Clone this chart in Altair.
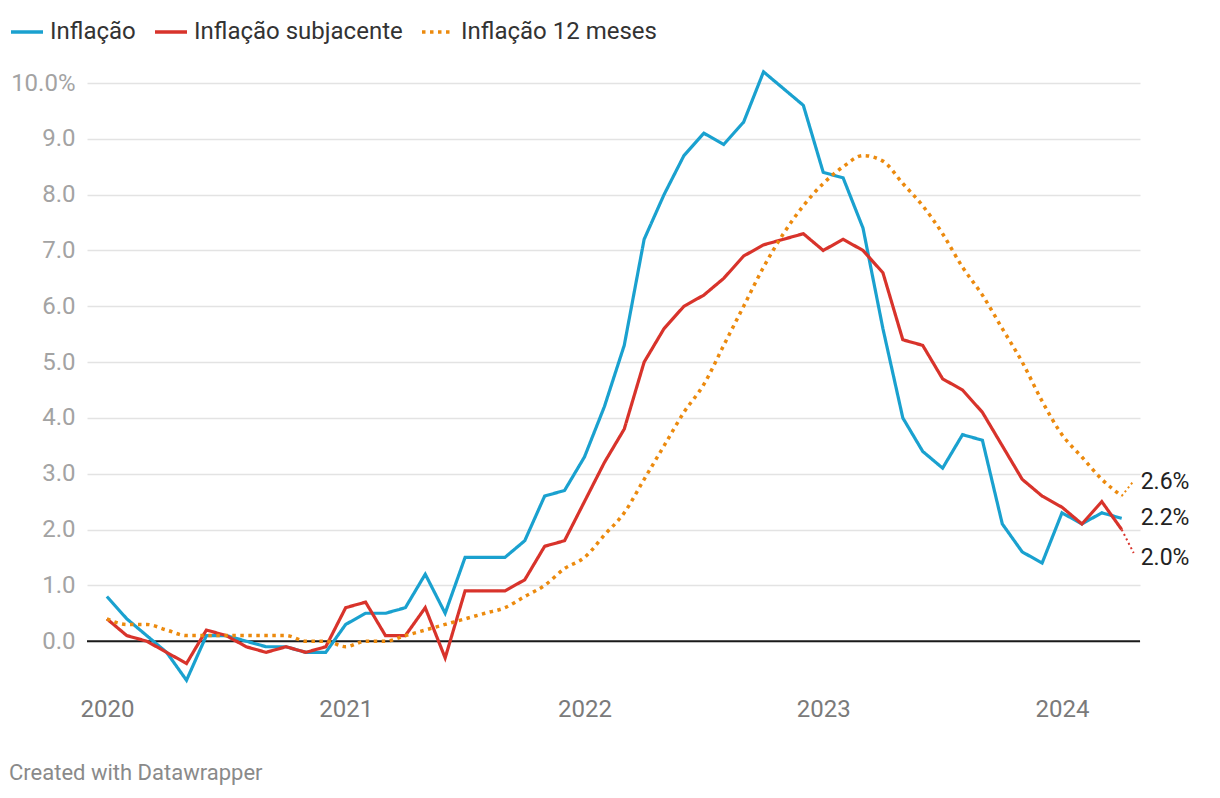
import json
import altair as alt
import pandas as pd

# ---- data (monthly, Jan 2020 – Apr 2024) ----
inflacao = [
    0.8, 0.4, 0.1, -0.2, -0.7, 0.1, 0.1, 0.0, -0.1, -0.1, -0.2, -0.2,   # 2020
    0.3, 0.5, 0.5, 0.6, 1.2, 0.5, 1.5, 1.5, 1.5, 1.8, 2.6, 2.7,         # 2021
    3.3, 4.2, 5.3, 7.2, 8.0, 8.7, 9.1, 8.9, 9.3, 10.2, 9.9, 9.6,        # 2022
    8.4, 8.3, 7.4, 5.6, 4.0, 3.4, 3.1, 3.7, 3.6, 2.1, 1.6, 1.4,         # 2023
    2.3, 2.1, 2.3, 2.2,                                                 # 2024
]
subjacente = [
    0.4, 0.1, 0.0, -0.2, -0.4, 0.2, 0.1, -0.1, -0.2, -0.1, -0.2, -0.1,
    0.6, 0.7, 0.1, 0.1, 0.6, -0.3, 0.9, 0.9, 0.9, 1.1, 1.7, 1.8,
    2.5, 3.2, 3.8, 5.0, 5.6, 6.0, 6.2, 6.5, 6.9, 7.1, 7.2, 7.3,
    7.0, 7.2, 7.0, 6.6, 5.4, 5.3, 4.7, 4.5, 4.1, 3.5, 2.9, 2.6,
    2.4, 2.1, 2.5, 2.0,
]
doze_meses = [
    0.4, 0.3, 0.3, 0.2, 0.1, 0.1, 0.1, 0.1, 0.1, 0.1, 0.0, 0.0,
    -0.1, 0.0, 0.0, 0.1, 0.2, 0.3, 0.4, 0.5, 0.6, 0.8, 1.0, 1.3,
    1.5, 1.9, 2.3, 2.9, 3.5, 4.1, 4.6, 5.3, 6.0, 6.7, 7.3, 7.8,
    8.2, 8.5, 8.7, 8.6, 8.2, 7.8, 7.3, 6.7, 6.2, 5.6, 5.0, 4.3,
    3.7, 3.3, 2.9, 2.6,
]
series_names = ["Inflação", "Inflação subjacente", "Inflação 12 meses"]
year_labels = ["2020", "2021", "2022", "2023", "2024"]
y_ticks = [0, 1, 2, 3, 4, 5, 6, 7, 8, 9, 10]

# ---- styling ----
colors = ["#1aa1cf", "#d8332b", "#ec8a0e"]
dashes = [[1, 0], [1, 0], [3.5, 4.5]]
label_shift = {"Inflação": 0.0, "Inflação subjacente": -0.51, "Inflação 12 meses": 0.25}
connector_shift = {"Inflação subjacente": -0.42, "Inflação 12 meses": 0.27}
FONT = "Roboto"

rows = []
for name, vals in zip(series_names, [inflacao, subjacente, doze_meses]):
    for i, v in enumerate(vals):
        rows.append({"serie": name, "mes": i, "valor": v})
df = pd.DataFrame(rows)

last = len(inflacao) - 1
ends = []
for name, vals in zip(series_names, [inflacao, subjacente, doze_meses]):
    v = vals[-1]
    ends.append({
        "serie": name, "mes": last, "valor": v,
        "label_y": v + label_shift[name],
        "texto": f"{v:.1f}%",
    })
ends_df = pd.DataFrame(ends)
conn_df = pd.DataFrame([
    {"serie": n, "mes": last, "mes2": last + 0.6,
     "valor": ends_df.loc[ends_df.serie == n, "valor"].iloc[0],
     "y2": ends_df.loc[ends_df.serie == n, "valor"].iloc[0] + s}
    for n, s in connector_shift.items()
])

color_scale = alt.Scale(domain=series_names, range=colors)
dash_scale = alt.Scale(domain=series_names, range=dashes)
x_scale = alt.Scale(domain=[-1.0, 51.92], nice=False, zero=False)
y_scale = alt.Scale(domain=[-1, 10], nice=False, zero=False)

x_axis = alt.Axis(
    values=[0, 12, 24, 36, 48],
    labelExpr=f"{json.dumps(year_labels)}[round(datum.value / 12)]",
    grid=False, domain=False, ticks=False, title=None,
    labelFontSize=24, labelColor="#7a7a7a", labelPadding=0, labelFont=FONT,
)
y_axis = alt.Axis(
    values=y_ticks,
    labelExpr="datum.value == 10 ? '10.0%' : format(datum.value, '.1f')",
    grid=True, gridColor="#e3e3e3", gridWidth=1.5,
    domain=False, ticks=False, title=None,
    labelFontSize=24, labelColor="#a3a3a3", labelPadding=12, labelFont=FONT,
)

legend = alt.Legend(
    title=None, orient="none", direction="horizontal", legendX=-78, legendY=-69,
    symbolType="stroke", symbolSize=1024, symbolStrokeWidth=3.5,
    labelFontSize=24, labelColor="#333333", labelFont=FONT, labelOffset=5,
    labelLimit=500, columnPadding=12, padding=0,
)

color_enc = alt.Color("serie:N", scale=color_scale, sort=series_names, legend=legend)
dash_enc = alt.StrokeDash("serie:N", scale=dash_scale, sort=series_names, legend=legend)
x_enc = alt.X("mes:Q", scale=x_scale, axis=x_axis)
y_enc = alt.Y("valor:Q", scale=y_scale, axis=y_axis)

zero = alt.Chart(pd.DataFrame({"z": [0]})).mark_rule(color="#1a1a1a", strokeWidth=2).encode(
    y=alt.Y("z:Q", scale=y_scale, axis=y_axis)
)

straight = alt.Chart(df).transform_filter(
    alt.FieldOneOfPredicate(field="serie", oneOf=series_names[:2])
).mark_line(strokeWidth=3.2).encode(
    x=x_enc, y=y_enc, color=color_enc, strokeDash=dash_enc,
)

smooth = alt.Chart(df).transform_filter(
    alt.FieldEqualPredicate(field="serie", equal=series_names[2])
).mark_line(strokeWidth=3.5, interpolate="monotone").encode(
    x=x_enc, y=y_enc, color=color_enc, strokeDash=dash_enc,
)

connectors = alt.Chart(conn_df).mark_rule(strokeWidth=2, strokeDash=[2, 3]).encode(
    x=x_enc,
    x2="mes2:Q",
    y=y_enc,
    y2="y2:Q",
    color=alt.Color("serie:N", scale=color_scale, legend=None),
)

labels = alt.Chart(ends_df).mark_text(
    align="left", baseline="middle", dx=19, fontSize=23, font=FONT, color="#222222"
).encode(
    x=x_enc,
    y=alt.Y("label_y:Q", scale=y_scale, axis=y_axis),
    text="texto:N",
)

chart = alt.layer(zero, straight, smooth, connectors, labels).properties(
    width=1053, height=614,
    padding={"left": 79, "top": 75, "right": 72, "bottom": 95},
    autosize=alt.AutoSizeParams(type="none"),
    title=alt.TitleParams(
        "Created with Datawrapper", orient="bottom", anchor="start", frame="bounds",
        fontSize=22, font=FONT, fontWeight="normal", color="#8a8a8a", offset=42,
    ),
).configure_view(stroke=None)

chart.save("out.html", embed_options={"renderer": "svg", "actions": False})
